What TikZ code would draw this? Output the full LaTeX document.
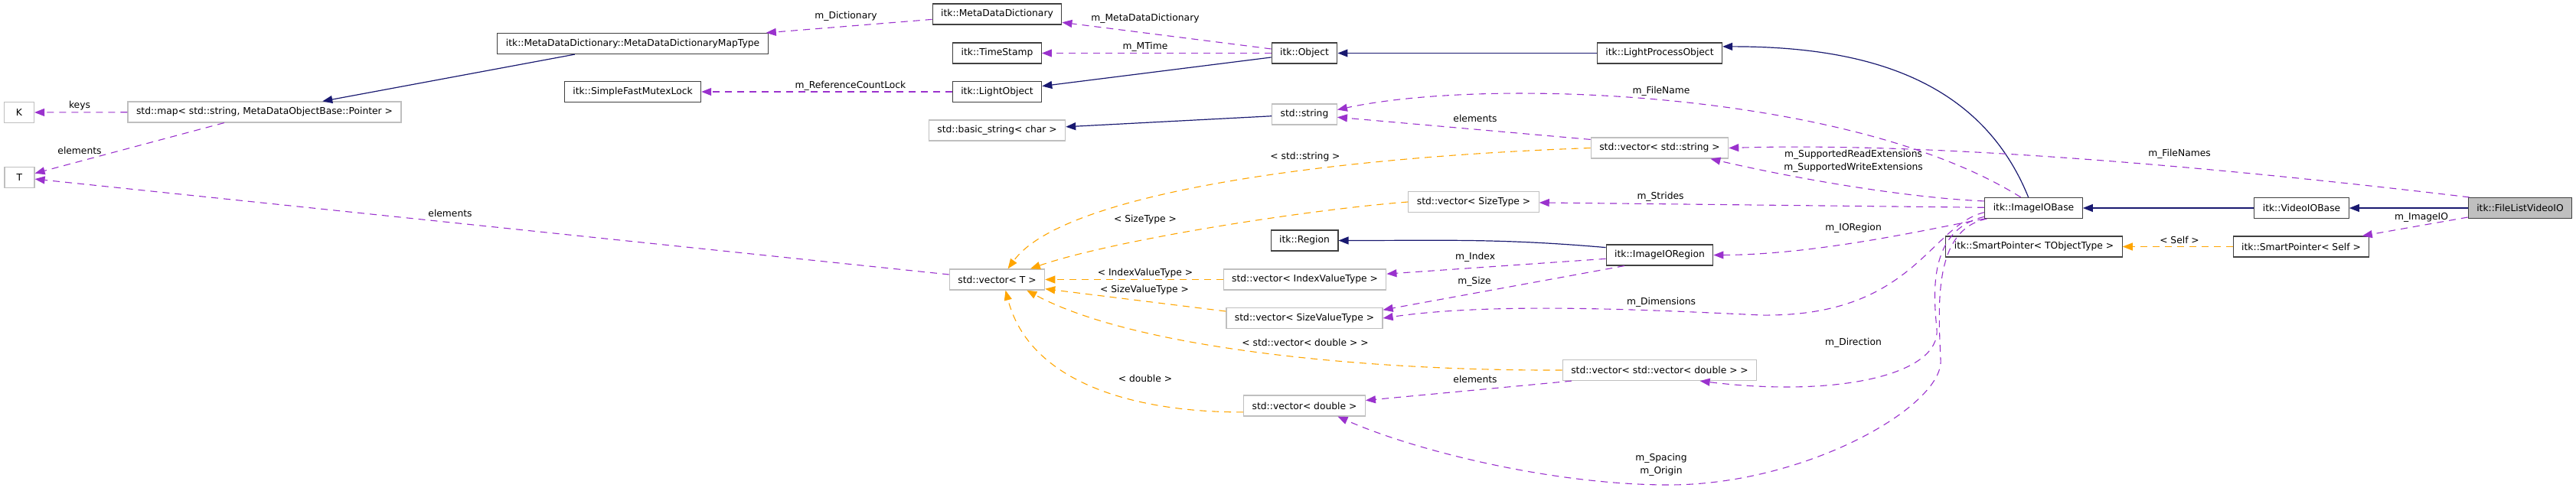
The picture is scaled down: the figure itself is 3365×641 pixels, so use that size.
\documentclass[tikz,border=0pt]{standalone}
\usepackage{fontspec}
\setmainfont{DejaVu Sans}
\usepackage{tikz}
\usetikzlibrary{arrows.meta}
\definecolor{inhnavy}{RGB}{25,25,112}
\definecolor{usepurple}{RGB}{154,50,205}
\definecolor{tplorange}{RGB}{255,165,0}
\definecolor{boxgray}{RGB}{191,191,191}
\definecolor{boxdark}{RGB}{64,64,64}
\newcommand{\dxfont}{\fontsize{12.3}{17}\selectfont}
\tikzset{
  cls/.style={rectangle, draw=boxdark, fill=white, minimum height=27pt,
    minimum width=39pt, inner xsep=11pt, inner ysep=0pt,
    line width=1.2pt, font=\dxfont},
  extcls/.style={cls, draw=boxgray},
  curcls/.style={cls, fill=boxgray},
  lbl/.style={inner sep=0pt, font=\dxfont, align=center},
  inherit/.style={-{Triangle[length=13pt,width=10pt]}, line width=1.2pt, color=inhnavy},
  usage/.style={-{Triangle[length=13pt,width=10pt]}, line width=1.1pt,
    dash pattern=on 9pt off 7pt, color=usepurple},
  tmpl/.style={usage, color=tplorange}
}

\begin{document}
\begin{tikzpicture}[x=1pt, y=-1pt]
  \useasboundingbox (0,0) rectangle (3365,641);

  % classes
  \node[extcls] (keyK) at (25,147) {K};
  \node[extcls] (mapstr) at (345.5,146.5) {std::map< std::string, MetaDataObjectBase::Pointer >};
  \node[extcls] (typeT) at (25.5,232) {T};
  \node[cls] (maptype) at (826.5,57) {itk::MetaDataDictionary::MetaDataDictionaryMapType};
  \node[cls] (mutex) at (826.5,120) {itk::SimpleFastMutexLock};
  \node[cls] (mdd) at (1302.5,18.5) {itk::MetaDataDictionary};
  \node[cls] (tstamp) at (1302.5,69.5) {itk::TimeStamp};
  \node[cls] (lightobj) at (1302.5,120) {itk::LightObject};
  \node[extcls] (bstring) at (1302.5,170.5) {std::basic\_string< char >};
  \node[extcls] (vect) at (1302.5,365.5) {std::vector< T >};
  \node[cls] (object) at (1704,69.5) {itk::Object};
  \node[extcls] (string) at (1704,149.5) {std::string};
  \node[cls] (region) at (1704,314.5) {itk::Region};
  \node[extcls] (vecindex) at (1704.5,365.5) {std::vector< IndexValueType >};
  \node[extcls] (vecsizeval) at (1704,416) {std::vector< SizeValueType >};
  \node[extcls] (vecdouble) at (1704,530.5) {std::vector< double >};
  \node[cls] (lpo) at (2168,69.5) {itk::LightProcessObject};
  \node[extcls] (vecstring) at (2168,193.5) {std::vector< std::string >};
  \node[extcls] (vecsizetype) at (1925,264) {std::vector< SizeType >};
  \node[cls] (ioregion) at (2168,333.5) {itk::ImageIORegion};
  \node[extcls] (vecvec) at (2168,484) {std::vector< std::vector< double > >};
  \node[cls] (iobase) at (2656.5,272) {itk::ImageIOBase};
  \node[cls] (spobj) at (2657,322.5) {itk::SmartPointer< TObjectType >};
  \node[cls] (videobase) at (3006.5,272) {itk::VideoIOBase};
  \node[cls] (spself) at (3006,322.5) {itk::SmartPointer< Self >};
  \node[curcls] (flvio) at (3292,272) {itk::FileListVideoIO};

  % inheritance
  \draw[inherit] (maptype) -- (mapstr);
  \draw[inherit] (object) -- (lightobj);
  \draw[inherit] (string) -- (bstring);
  \draw[inherit] (lpo) -- (object);
  \draw[inherit] (iobase.116) to[out=112, in=0] (lpo.6);
  \draw[inherit] (videobase) -- (iobase);
  \draw[inherit] (flvio) -- (videobase);
  \draw[inherit] (ioregion.172) to[out=175, in=0] (region.east);

  % members
  \draw[usage] (mapstr) -- (keyK);
  \draw[usage] (mapstr) -- (typeT);
  \draw[usage] (mdd) -- (maptype);
  \draw[usage] (lightobj) -- (mutex);
  \draw[usage] (object) -- (mdd);
  \draw[usage] (object) -- (tstamp);
  \draw[usage] (vect) -- (typeT);
  \draw[usage] (vecstring.173) -- (string.-5);
  \draw[usage] (iobase.140) .. controls (2420,120) and (1950,100) .. (string.8);
  \draw[usage] (iobase.172) .. controls (2480,258) and (2330,230) .. (vecstring.-12);
  \draw[usage] (flvio.168) .. controls (2950,225) and (2550,185) .. (vecstring.east);
  \draw[usage] (iobase) -- (vecsizetype);
  \draw[usage] (iobase.south west) .. controls (2540,295) and (2380,333) .. (ioregion.east);
  \draw[usage] (ioregion) -- (vecindex);
  \draw[usage] (ioregion.197) -- (vecsizeval.6);
  \draw[usage] (iobase.185) .. controls (2520,295) and (2500,415) .. (2300,412)
    .. controls (2150,405) and (1950,395) .. (vecsizeval.east);
  \draw[usage] (iobase.190) .. controls (2520,300) and (2525,380) .. (2530,430)
    .. controls (2535,490) and (2400,520) .. (vecvec.-15);
  \draw[usage] (iobase.193) .. controls (2525,300) and (2532,400) .. (2535,470)
    .. controls (2540,530) and (2360,634) .. (2180,634)
    .. controls (2030,634) and (1850,590) .. (vecdouble.-18);
  \draw[usage] (vecvec.187) -- (vecdouble.5);
  \draw[usage] (flvio) -- (spself);

  % template instances
  \draw[tmpl] (vecstring.west) .. controls (1750,205) and (1390,250) .. (vect.45);
  \draw[tmpl] (vecsizetype.west) .. controls (1700,275) and (1450,315) .. (vect.18);
  \draw[tmpl] (vecindex) -- (vect);
  \draw[tmpl] (vecsizeval.175) -- (vect.-11);
  \draw[tmpl] (vecvec.west) .. controls (1780,485) and (1480,455) .. (vect.-20);
  \draw[tmpl] (vecdouble.186) .. controls (1480,539) and (1345,500) .. (vect.-52);
  \draw[tmpl] (spself) -- (spobj);

  % edge labels
  \node[lbl] (lkeys) at (104,138) {keys};
  \node[lbl] (lmapel) at (104,197) {elements};
  \node[lbl] (lvecel) at (588,279) {elements};
  \node[lbl] (ldict) at (1105,21) {m\_Dictionary};
  \node[lbl] (lrefcnt) at (1111,112) {m\_ReferenceCountLock};
  \node[lbl] (lmdd) at (1496,24) {m\_MetaDataDictionary};
  \node[lbl] (lmtime) at (1496,61) {m\_MTime};
  \node[lbl] (lstrtpl) at (1705,205) {< std::string >};
  \node[lbl] (lsizetpl) at (1496,287) {< SizeType >};
  \node[lbl] (lidxtpl) at (1496,357) {< IndexValueType >};
  \node[lbl] (lsvtpl) at (1495,379) {< SizeValueType >};
  \node[lbl] (lvvtpl) at (1705,448) {< std::vector< double > >};
  \node[lbl] (ldbltpl) at (1496,495) {< double >};
  \node[lbl] (lfname) at (2170,119) {m\_FileName};
  \node[lbl] (lstrel) at (1927,155) {elements};
  \node[lbl] (lstrides) at (2169,257) {m\_Strides};
  \node[lbl] (lindex) at (1927,336) {m\_Index};
  \node[lbl] (lsize) at (1926,368) {m\_Size};
  \node[lbl] (ldims) at (2170,395) {m\_Dimensions};
  \node[lbl] (lvvel) at (1927,496) {elements};
  \node[lbl] (lspacing) at (2170,607.5) {m\_Spacing\\m\_Origin};
  \node[lbl] (lexts) at (2421,210.5) {m\_SupportedReadExtensions\\m\_SupportedWriteExtensions};
  \node[lbl] (lioreg) at (2421,298) {m\_IORegion};
  \node[lbl] (ldir) at (2421,448) {m\_Direction};
  \node[lbl] (lfnames) at (2847,201) {m\_FileNames};
  \node[lbl] (limgio) at (3163,284) {m\_ImageIO};
  \node[lbl] (lself) at (2847,314) {< Self >};
\end{tikzpicture}
\end{document}
